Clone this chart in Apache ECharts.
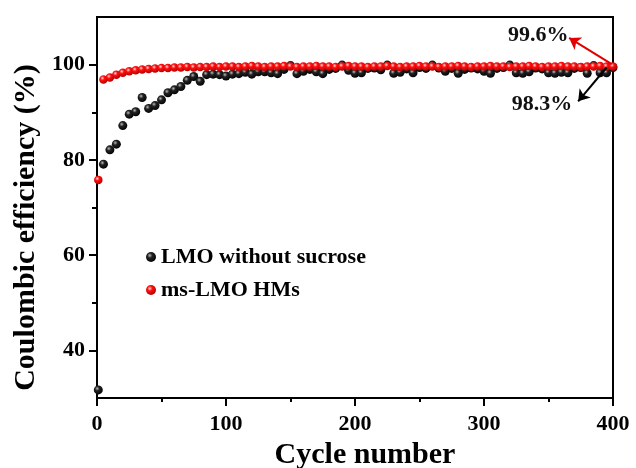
<!DOCTYPE html>
<html>
<head>
<meta charset="utf-8">
<script src="https://cdn.jsdelivr.net/npm/echarts@6/dist/echarts.min.js"></script>
<style>html,body{margin:0;padding:0;background:#fff;}#c{width:636px;height:468px;}</style>
</head>
<body>
<div id="c"></div>
<script>
// ---- data ----
var cycles = [1,5,10,15,20,25,30,35,40,45,50,55,60,65,70,75,80,85,90,95,
  100,105,110,115,120,125,130,135,140,145,150,155,160,165,170,175,180,185,190,195,
  200,205,210,215,220,225,230,235,240,245,250,255,260,265,270,275,280,285,290,295,
  300,305,310,315,320,325,330,335,340,345,350,355,360,365,370,375,380,385,390,395,400];
var lmoWithoutSucrose = [31.7,79.1,82.1,83.3,87.2,89.6,90.1,93.1,90.8,91.4,92.6,94.1,94.7,95.4,96.7,97.5,96.5,97.9,98.0,97.9,
  97.6,98.0,98.1,98.4,98.0,98.5,98.5,98.3,98.1,99.0,99.8,98.1,98.6,99.0,98.5,98.1,99.0,99.2,99.9,98.8,
  98.2,98.3,99.2,99.3,98.9,99.9,98.2,98.4,99.1,98.3,99.4,99.2,99.9,99.3,98.6,99.2,98.2,99.0,99.3,99.1,
  98.6,98.2,99.2,99.4,99.9,98.3,98.2,98.5,99.3,99.1,98.3,98.2,98.4,98.3,99.2,99.4,98.2,99.8,98.3,98.3,99.4];
var msLmoHMs = [75.8,96.9,97.3,97.9,98.3,98.6,98.8,99.0,99.1,99.2,99.3,99.3,99.4,99.4,99.5,99.4,99.5,99.5,99.6,99.5,
  99.6,99.6,99.5,99.6,99.7,99.6,99.5,99.6,99.6,99.7,99.6,99.5,99.6,99.6,99.7,99.6,99.6,99.5,99.6,99.7,
  99.6,99.6,99.5,99.6,99.6,99.7,99.6,99.5,99.6,99.6,99.7,99.6,99.6,99.5,99.6,99.6,99.7,99.6,99.5,99.6,
  99.6,99.7,99.6,99.6,99.5,99.6,99.6,99.7,99.6,99.5,99.6,99.6,99.7,99.6,99.6,99.5,99.6,99.6,99.7,99.6,99.6];
var seriesNames = ['LMO without sucrose', 'ms-LMO HMs'];
var xTicks = [0,100,200,300,400];
var yTickLabels = [40,60,80,100];
var yMinorTicks = [50,70,90];
// annotations (data coordinates): arrow from, arrow to, text position, text
var annRed = {from:[399,100.1], to:[366,105.6], at:[342,106.2], text:'99.6%'};
var annBlack = {from:[395,99.4], to:[373,92.3], at:[345,91.7], text:'98.3%'};

var FONT = "'Liberation Serif','Times New Roman',serif";
function pairs(xs, ys){ return xs.map(function(x,i){ return [x, ys[i]]; }); }
function ball(c0, c1, c2){
  return {type:'radial', x:0.38, y:0.35, r:0.7,
    colorStops:[{offset:0,color:c0},{offset:0.35,color:c1},{offset:1,color:c2}]};
}
var blackBall = ball('#bbbbbb','#222222','#000000');
var redBall = ball('#ffdddd','#ff1010','#b00000');

var chart = echarts.init(document.getElementById('c'), null, {renderer:'canvas'});
chart.setOption({
  animation:false,
  backgroundColor:'#fff',
  grid:{left:97, right:23, top:17, bottom:70, show:true, borderColor:'#000', borderWidth:2,
    backgroundColor:'transparent', outerBoundsMode:'none', containLabel:false},
  legend:{
    orient:'vertical', left:141, top:240, itemWidth:10, itemHeight:10, itemGap:9,
    icon:'circle',
    textStyle:{fontFamily:FONT, fontWeight:'bold', fontSize:22, color:'#000', lineHeight:24},
    data:seriesNames
  },
  xAxis:{
    type:'value', min:0, max:400, interval:100,
    axisLine:{show:true, lineStyle:{color:'#000', width:2}},
    axisTick:{show:true, length:8, inside:false, lineStyle:{color:'#000', width:2}},
    minorTick:{show:true, splitNumber:2, length:4, lineStyle:{color:'#000', width:2}},
    axisLabel:{fontFamily:FONT, fontWeight:'bold', fontSize:22, color:'#000', margin:15,
      customValues:xTicks},
    splitLine:{show:false},
    name:'Cycle number', nameLocation:'middle', nameGap:36,
    nameTextStyle:{fontFamily:FONT, fontWeight:'bold', fontSize:30, color:'#000', padding:[0,0,0,20]}
  },
  yAxis:[{
    type:'value', min:30, max:110,
    axisLine:{show:true, lineStyle:{color:'#000', width:2}},
    axisTick:{show:true, length:8, customValues:yTickLabels, lineStyle:{color:'#000', width:2}},
    axisLabel:{fontFamily:FONT, fontWeight:'bold', fontSize:22, color:'#000', margin:12,
      customValues:yTickLabels},
    splitLine:{show:false},
    name:'Coulombic efficiency (%)', nameLocation:'middle', nameGap:56,
    nameTextStyle:{fontFamily:FONT, fontWeight:'bold', fontSize:30, color:'#000', padding:[0,40,0,0]}
  },{
    type:'value', min:30, max:110, position:'left',
    axisLine:{show:false},
    axisTick:{show:true, length:5, customValues:yMinorTicks, lineStyle:{color:'#000', width:2}},
    axisLabel:{show:false},
    splitLine:{show:false}
  }],
  series:[{
    name:seriesNames[0], type:'scatter', symbol:'circle', symbolSize:9,
    itemStyle:{color:blackBall, opacity:1},
    data:pairs(cycles, lmoWithoutSucrose),
    markLine:{silent:true, symbol:['none','arrow'], symbolSize:11,
      lineStyle:{color:'#000', width:2, type:'solid'}, label:{show:false},
      data:[[{coord:annBlack.from},{coord:annBlack.to}]]},
    markPoint:{silent:true, symbol:'circle', symbolSize:0,
      label:{show:true, position:'inside', formatter:annBlack.text, fontFamily:FONT, fontWeight:'bold', fontSize:22, color:'#111'},
      data:[{coord:annBlack.at}]}
  },{
    name:seriesNames[1], type:'scatter', symbol:'circle', symbolSize:8.5,
    itemStyle:{color:redBall, opacity:1},
    data:pairs(cycles, msLmoHMs),
    markLine:{silent:true, symbol:['none','arrow'], symbolSize:11,
      lineStyle:{color:'#e00000', width:2, type:'solid'}, label:{show:false},
      data:[[{coord:annRed.from},{coord:annRed.to}]]},
    markPoint:{silent:true, symbol:'circle', symbolSize:0,
      label:{show:true, position:'inside', formatter:annRed.text, fontFamily:FONT, fontWeight:'bold', fontSize:22, color:'#111'},
      data:[{coord:annRed.at}]}
  }]
});
</script>
</body>
</html>
